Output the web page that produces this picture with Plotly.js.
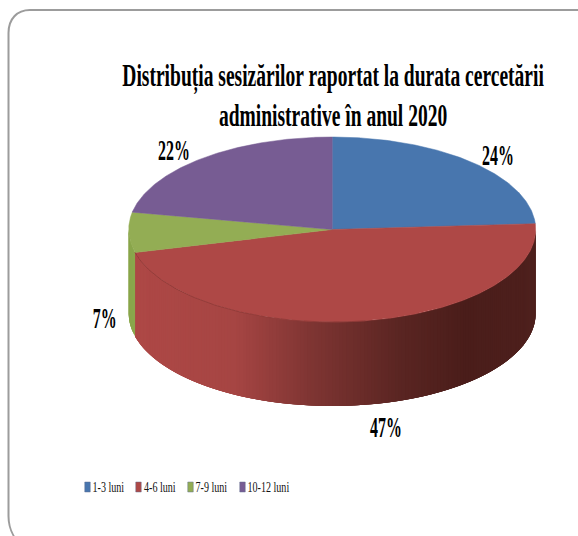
<!DOCTYPE html>
<html>
<head>
<meta charset="utf-8">
<script src="https://cdn.plot.ly/plotly-3.0.1.min.js"></script>
<style>html,body{margin:0;padding:0;background:#fff}#chart{width:578px;height:536px}</style>
</head>
<body>
<div id="chart"></div>
<script>
// Chart data
const categories = ['1-3 luni', '4-6 luni', '7-9 luni', '10-12 luni'];
const shares = [24, 47, 7, 22];
const sliceColors = ['#4876AE', '#AE4846', '#93AD54', '#775C93'];
const chartTitle = 'Distribuția sesizărilor raportat la durata cercetării<br>administrative în anul 2020';

// Geometry of the tilted disc, in page pixels
const disc = {cx: 332.2, cy: 229.5, rx: 203.5, ry: 92.5, depth: 84};
const labelCentres = [[497.5, 155], [386, 427], [104.5, 318], [173.5, 150]];
const legendSlots = [[87.5, 92.5], [138.5, 144], [190.5, 195.5], [242.5, 247.5]];

// Shading of the side wall from left to right
const wallShade = [
  [128, [174, 72, 70]], [235, [166, 69, 67]], [310, [127, 53, 51]],
  [400, [90, 37, 34]], [465, [74, 29, 26]], [536, [78, 32, 29]]
];

const rim = a => {
  const t = a * Math.PI / 180;
  return [disc.cx + disc.rx * Math.sin(t), disc.cy - disc.ry * Math.cos(t)];
};

function shadeAt(x) {
  for (let i = 1; i < wallShade.length; i++) {
    const [x0, c0] = wallShade[i - 1], [x1, c1] = wallShade[i];
    if (x <= x1) {
      const f = Math.max(0, (x - x0) / (x1 - x0));
      return 'rgb(' + c0.map((c, k) => Math.round(c + (c1[k] - c) * f)).join(',') + ')';
    }
  }
  return 'rgb(78,32,29)';
}

// Angular span of each slice, clockwise from twelve o'clock
const total = shares.reduce((a, b) => a + b, 0);
let running = 0;
const spans = shares.map(v => {
  const s = [running / total * 360, (running + v) / total * 360];
  running += v;
  return s;
});

const traces = [];
const noHover = {hoverinfo: 'skip', showlegend: false, type: 'scatter'};

// Side wall on the front half of the disc; each strip runs under the next one
// so that neighbouring strips leave no hairline between them
spans.forEach((span, i) => {
  const from = Math.max(span[0], 90), to = Math.min(span[1], 270);
  if (to <= from) return;
  const step = 1;
  for (let a = from; a < to; a += step) {
    const stop = Math.min(a + 4, to);
    const top = [], bottom = [];
    for (let b = a; b < stop; b += 1) top.push(rim(b));
    top.push(rim(stop));
    const xs = top.map(p => p[0]);
    const ys = top.map(p => p[1]);
    const back = top.slice().reverse();
    back.forEach(p => { xs.push(p[0]); ys.push(p[1] + disc.depth); });
    xs.push(xs[0]); ys.push(ys[0]);
    const color = i === 1 ? shadeAt(rim(a + step / 2)[0]) : '#8AA64C';
    traces.push(Object.assign({
      x: xs, y: ys, mode: 'lines', fill: 'toself', fillcolor: color,
      line: {color: color, width: 0}
    }, noHover));
  }
});

// Top face
spans.forEach((span, i) => {
  const xs = [disc.cx], ys = [disc.cy];
  for (let a = span[0]; a < span[1]; a += 0.5) {
    const p = rim(a);
    xs.push(p[0]); ys.push(p[1]);
  }
  const end = rim(span[1]);
  xs.push(end[0], disc.cx); ys.push(end[1], disc.cy);
  traces.push(Object.assign({
    x: xs, y: ys, mode: 'lines', fill: 'toself', fillcolor: sliceColors[i],
    line: {color: sliceColors[i], width: 0.5}
  }, noHover));
});

// Soft dark edge where the red face meets the lit part of the wall
const edgeX = [], edgeY = [];
for (let a = spans[1][1]; a > 170; a -= 1) {
  const p = rim(a);
  edgeX.push(p[0]); edgeY.push(p[1]);
}
traces.push(Object.assign({
  x: edgeX, y: edgeY, mode: 'lines', line: {color: '#8C3836', width: 0.8}
}, noHover));

// Legend keys
categories.forEach((name, i) => {
  traces.push({
    type: 'scatter', x: [null], y: [null], name: name, mode: 'markers', hoverinfo: 'skip',
    marker: {symbol: 'square', size: 10, color: sliceColors[i], line: {color: '#5f6f8f', width: 0.6}}
  });
});

const layout = {
  width: 578, height: 536,
  margin: {l: 0, r: 0, t: 0, b: 0},
  paper_bgcolor: '#fff', plot_bgcolor: '#fff',
  xaxis: {range: [0, 578], visible: false, fixedrange: true},
  yaxis: {range: [536, 0], visible: false, fixedrange: true},
  title: {
    text: chartTitle, x: 333 / 578, xanchor: 'center', xref: 'paper',
    y: 1 - 86 / 536, yanchor: 'bottom', yref: 'container',
    font: {family: 'Liberation Serif', size: 31, color: '#000', weight: 700}
  },
  showlegend: true,
  legend: {
    orientation: 'h', x: 0, y: 0.1, xanchor: 'left', yanchor: 'top',
    bgcolor: 'rgba(0,0,0,0)', font: {family: 'Liberation Serif', size: 14, color: '#111'}
  },
  annotations: shares.map((v, i) => ({
    x: labelCentres[i][0], y: labelCentres[i][1], xref: 'x', yref: 'y',
    text: v + '%', showarrow: false, xanchor: 'center', yanchor: 'middle',
    font: {family: 'Liberation Serif', size: 29, color: '#000', weight: 700}
  })),
  // Rounded panel outline that runs past the right and bottom page edges
  shapes: [{
    type: 'path', xref: 'x', yref: 'y',
    path: 'M 600 10 L 30 10 C 17 10 8.5 19 8.5 33 L 8.5 516 C 8.5 530 14 540 26 550',
    line: {color: '#9C9C9C', width: 2}
  }]
};

// Condense a text element horizontally about a fixed centre
function squeeze(el, factor) {
  const box = el.getBBox();
  const c = box.x + box.width / 2;
  el.setAttribute('transform', `translate(${c},0) scale(${factor},1) translate(${-c},0)`);
}

Plotly.newPlot('chart', traces, layout, {displayModeBar: false, staticPlot: true}).then(gd => {
  const title = gd.querySelector('.gtitle');
  if (title) squeeze(title, 0.63);
  gd.querySelectorAll('.annotation-text-g text, .annotation text').forEach(t => squeeze(t, 0.55));

  // Compact legend row: narrow keys with the labels tight against them
  const legend = gd.querySelector('.legend');
  const rowY = 487;
  legend.setAttribute('transform', 'translate(0,0)');
  const box = legend.querySelector('.scrollbox');
  if (box) box.removeAttribute('clip-path');
  legend.querySelectorAll('.traces').forEach((item, i) => {
    item.setAttribute('transform', `translate(0,${rowY})`);
    const key = item.querySelector('.legendpoints path');
    if (key) key.setAttribute('transform', `translate(${legendSlots[i][0]},0) scale(0.55,1)`);
    const text = item.querySelector('.legendtext');
    text.setAttribute('x', 0);
    text.setAttribute('transform', `translate(${legendSlots[i][1]},0) scale(0.72,1)`);
  });
});
</script>
</body>
</html>
